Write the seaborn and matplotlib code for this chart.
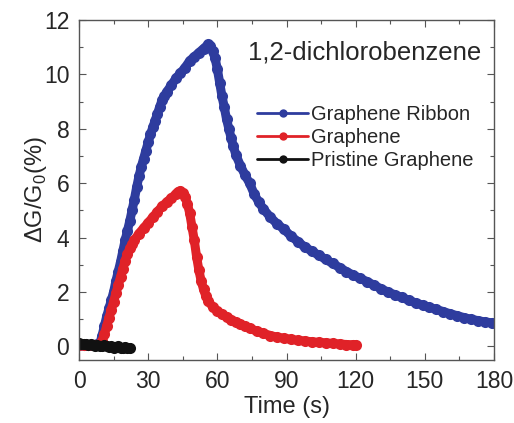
import numpy as np
import pandas as pd
import matplotlib
matplotlib.use('Agg')
import matplotlib.pyplot as plt
from matplotlib.ticker import MultipleLocator
import seaborn as sns

# values
ribbon_t = [0, 2, 4, 6, 8, 9, 10, 11, 12, 13, 14, 15, 16, 17, 18, 19, 20, 21, 22, 23, 24, 25, 26, 27, 28, 29,
            30, 31, 32, 33, 34, 35, 36, 37, 38, 40, 42, 44, 46, 48, 50, 52, 54, 56, 57, 58, 59, 60, 61, 62,
            63, 64, 65, 66, 67, 68, 70, 72, 74, 76, 78, 80, 83, 86, 89, 92, 95, 98, 101, 104, 107, 110, 113,
            116, 119, 122, 125, 128, 131, 134, 137, 140, 143, 146, 149, 152, 155, 158, 161, 164, 167, 170,
            173, 176, 179]
ribbon_g = [0.05, 0.05, 0.05, 0.05, 0.08, 0.1, 0.4, 0.75, 1.1, 1.4, 1.7, 2.0, 2.4, 2.75, 3.1, 3.5, 3.9, 4.25,
            4.6, 5.0, 5.4, 5.85, 6.25, 6.6, 6.9, 7.2, 7.5, 7.8, 8.05, 8.3, 8.55, 8.8, 9.05, 9.2, 9.35, 9.6,
            9.85, 10.05, 10.25, 10.5, 10.65, 10.8, 10.95, 11.1, 11.05, 10.85, 10.6, 10.2, 9.7, 9.2, 8.8, 8.35,
            8.0, 7.65, 7.35, 7.05, 6.65, 6.3, 6.0, 5.6, 5.3, 5.05, 4.75, 4.5, 4.3, 4.05, 3.85, 3.65, 3.5,
            3.35, 3.2, 3.05, 2.9, 2.75, 2.62, 2.5, 2.38, 2.25, 2.12, 2.0, 1.9, 1.8, 1.7, 1.6, 1.52, 1.44,
            1.36, 1.28, 1.2, 1.13, 1.06, 1.0, 0.95, 0.9, 0.87]

graphene_t = [0, 2, 4, 6, 8, 9, 10, 11, 12, 13, 14, 15, 16, 17, 18, 19, 20, 21, 22, 23, 24, 26, 28, 30, 32,
              34, 36, 38, 40, 42, 43, 44, 45, 46, 47, 48, 49, 50, 51, 52, 53, 54, 55, 56, 58, 60, 62, 64,
              66, 68, 70, 72, 74, 77, 80, 83, 86, 89, 92, 95, 98, 101, 104, 107, 110, 113, 116, 119, 120]
graphene_g = [0.05, 0.05, 0.05, 0.05, 0.05, 0.08, 0.2, 0.45, 0.75, 1.05, 1.35, 1.65, 1.95, 2.25, 2.55, 2.85,
              3.15, 3.4, 3.6, 3.75, 3.9, 4.15, 4.35, 4.55, 4.75, 4.95, 5.15, 5.3, 5.45, 5.6, 5.68, 5.72,
              5.65, 5.5, 5.25, 4.9, 4.4, 3.9, 3.3, 2.8, 2.4, 2.1, 1.85, 1.68, 1.45, 1.3, 1.18, 1.08, 0.98,
              0.9, 0.82, 0.74, 0.66, 0.57, 0.48, 0.4, 0.34, 0.3, 0.26, 0.22, 0.2, 0.17, 0.15, 0.13, 0.11,
              0.09, 0.07, 0.06, 0.05]

pristine_t = list(range(0, 23))
pristine_g = [0.12, 0.1, 0.08, 0.1, 0.05, 0.08, 0.05, 0.02, 0.05, 0.0, 0.02, 0.05, 0.0, -0.02, 0.0, -0.05,
              -0.03, 0.0, -0.05, -0.04, -0.02, -0.05, -0.04]

labels = ['Graphene Ribbon', 'Graphene', 'Pristine Graphene']
colors = ['#2e3c9e', '#e02228', '#111111']

df = pd.concat([
    pd.DataFrame({'t': ribbon_t, 'g': ribbon_g, 'sample': labels[0]}),
    pd.DataFrame({'t': graphene_t, 'g': graphene_g, 'sample': labels[1]}),
    pd.DataFrame({'t': pristine_t, 'g': pristine_g, 'sample': labels[2]}),
])

sns.set_style('ticks')
plt.rcParams['font.family'] = ['Liberation Sans', 'DejaVu Sans']
plt.rcParams['mathtext.fontset'] = 'custom'
plt.rcParams['mathtext.rm'] = 'Liberation Sans'

fig = plt.figure(figsize=(5.14, 4.23), dpi=100)
ax = fig.add_axes([0.1537, 0.1489, 0.8074, 0.8038])

sns.lineplot(data=df, x='t', y='g', hue='sample', hue_order=labels, palette=colors,
             estimator=None, sort=False, marker='o', markersize=8, markeredgewidth=0,
             linewidth=6.5, ax=ax)

ax.set_xlim(0, 180)
ax.set_ylim(-0.5, 12)
ax.xaxis.set_major_locator(MultipleLocator(30))
ax.xaxis.set_minor_locator(MultipleLocator(15))
ax.yaxis.set_major_locator(MultipleLocator(2))
ax.yaxis.set_minor_locator(MultipleLocator(1))
ax.tick_params(which='both', direction='in', top=True, right=True, color='#555555', width=0.8)
ax.tick_params(which='major', length=5, labelsize=16.5, pad=7)
ax.tick_params(which='minor', length=3)
for s in ax.spines.values():
    s.set_color('#555555')
    s.set_linewidth(1.0)

ax.set_xlabel('Time (s)', fontsize=17, labelpad=2)
ax.set_ylabel(r'ΔG/G$_\mathregular{0}$(%)', fontsize=17, labelpad=-4)

ax.text(0.688, 0.903, '1,2-dichlorobenzene', transform=ax.transAxes, ha='center', va='center',
        fontsize=18.5)

leg = ax.legend(loc='upper left', bbox_to_anchor=(0.43, 0.75), frameon=False, fontsize=14.5,
                handlelength=2.5, handletextpad=0.15, labelspacing=0.2, borderpad=0, borderaxespad=0)
for h in leg.get_lines():
    h.set_linewidth(2)
    h.set_markersize(6)

fig.savefig('out.png', dpi=100)
